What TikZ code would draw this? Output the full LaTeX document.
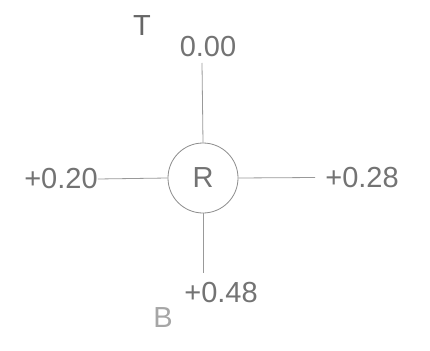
\documentclass[tikz,border=0pt]{standalone}
\usepackage{fontspec}
\setmainfont{Liberation Sans}
\begin{document}
\begin{tikzpicture}[x=1pt,y=-1pt,
  lbl/.style={inner sep=0pt, text=black!55, font=\fontsize{29}{34}\selectfont},
  conn/.style={draw=black!40, line width=0.8pt}]
\useasboundingbox[fill=white] (0,0) rectangle (430,350);
\node[draw=black!45, line width=0.8pt, circle, minimum size=70pt, inner sep=0pt, text=black!55, font=\fontsize{29}{34}\selectfont] (R) at (203,178) {R};
\node[lbl, text=black!60] (T) at (142,26) {T};
\node[lbl] (top) at (208,46.5) {0.00};
\node[lbl] (left) at (61,179) {+0.20};
\node[lbl] (right) at (362,178) {+0.28};
\node[lbl] (bot) at (221,293) {+0.48};
\node[lbl, text=black!35] (B) at (163,318) {B};
\coordinate (tc) at (202,63);
\coordinate (rc) at (315,177.5);
\coordinate (bc) at (203,273);
\draw[conn] (R.north) -- (tc);
\draw[conn] (left.east) -- (R.west);
\draw[conn] (R.east) -- (rc);
\draw[conn] (R.south) -- (bc);
\end{tikzpicture}
\end{document}
